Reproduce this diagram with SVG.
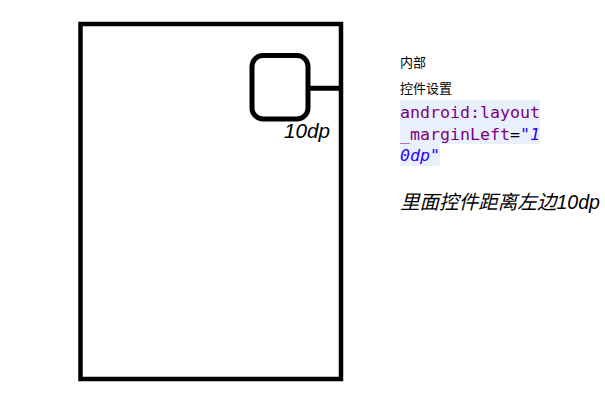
<svg xmlns="http://www.w3.org/2000/svg" width="605" height="406" viewBox="0 0 605 406">
<style>
.box{fill:none;stroke:#000;}
.cn{font-family:"Liberation Sans","Noto Sans CJK SC",sans-serif;fill:#000;}
.code{font-family:"DejaVu Sans Mono","Liberation Mono",monospace;font-size:16.6px;}
.attr{fill:#7F007F;}
.val{fill:#2A00FF;font-style:italic;}
</style>
<rect width="605" height="406" fill="#fff"/>
<g id="outer"><rect class="box" x="80.5" y="24" width="260.5" height="355" stroke-width="4.5"/></g>
<g id="inner"><rect class="box" x="252" y="55.5" width="56" height="63.5" rx="11" stroke-width="5"/></g>
<g id="connectors"><line x1="308" y1="88.3" x2="341" y2="88.3" stroke="#000" stroke-width="5"/></g>
<g id="label-10dp"><text class="cn" x="284" y="138" font-size="19.5" font-style="italic" textLength="46" lengthAdjust="spacingAndGlyphs">10dp</text></g>
<g id="notes">
<text class="cn" x="400" y="67" font-size="13">内部</text>
<text class="cn" x="400" y="93" font-size="13">控件设置</text>
<rect x="400" y="100" width="140" height="44" fill="#E8F0FC"/>
<rect x="400" y="144" width="40" height="22" fill="#E8F0FC"/>
<text class="code attr" x="400" y="118" textLength="140" lengthAdjust="spacingAndGlyphs">android:layout</text>
<text class="code" x="400" y="140" textLength="140" lengthAdjust="spacingAndGlyphs"><tspan class="attr">_marginLeft</tspan><tspan fill="#000">=</tspan><tspan class="val">"1</tspan></text>
<text class="code val" x="400" y="161" textLength="40" lengthAdjust="spacingAndGlyphs">0dp"</text>
<text class="cn" x="400" y="209" font-size="19.5" font-style="italic" textLength="200" lengthAdjust="spacingAndGlyphs">里面控件距离左边10dp</text>
</g>
</svg>
